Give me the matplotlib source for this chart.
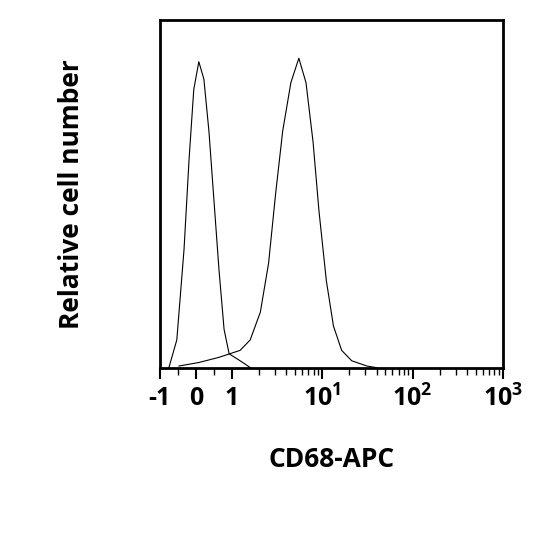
import numpy as np
import matplotlib; matplotlib.use("Agg")
import matplotlib.pyplot as plt

# isotype / unstained peak
neg_x = [-0.75, -0.53, -0.33, -0.19, -0.06, 0.08, 0.22, 0.36, 0.5, 0.64, 0.78, 0.92, 1.23, 1.6]
neg_y = [0, 8, 34, 60, 80, 88, 83, 68, 48, 28, 11, 4, 2, 0]
# CD68-APC stained peak
pos_x = [-0.47, 0.08, 0.64, 1.23, 1.59, 2.06, 2.54, 3.04, 3.64, 4.49, 5.5, 6.6, 7.9, 9.2,
         11.1, 13.3, 16.4, 21.2, 31.2, 40.4]
pos_y = [0.5, 1.5, 3, 5, 8, 16, 30, 50, 68, 82, 89, 82, 65, 45, 25, 12, 5, 2, 0.5, 0]

ticks = [-1, 0, 1, 10, 100, 1000]
tick_labels = ["-1", "0", "1", r"$\mathbf{10^1}$", r"$\mathbf{10^2}$", r"$\mathbf{10^3}$"]

K = 0.4  # linear unit width relative to a decade


def fwd(v):
    v = np.asarray(v, float)
    return np.where(v <= 1, v * K, K + np.log10(np.clip(v, 1, None)))


def inv(u):
    u = np.asarray(u, float)
    return np.where(u <= K, u / K, 10 ** (np.clip(u, K, None) - K))


plt.rcParams['font.family'] = ['Open Sans', 'DejaVu Sans']
plt.rcParams['mathtext.fontset'] = 'custom'
plt.rcParams['mathtext.bf'] = 'Open Sans:bold'
fig = plt.figure(figsize=(5.4, 5.4), dpi=100)
ax = fig.add_axes([0.296, 0.319, 0.635, 0.644])
ax.set_xscale('function', functions=(fwd, inv))
ax.plot(neg_x, neg_y, color='black', lw=0.8)
ax.plot(pos_x, pos_y, color='black', lw=0.8)
ax.set_xlim(-1, 1000)
ax.set_ylim(0, 100)
ax.set_xticks(ticks)
ax.set_xticklabels(tick_labels, fontsize=18, fontweight='bold')
minor = [m * 10 ** d for d in range(0, 3) for m in range(2, 10)] + [-0.5, 0.5]
ax.set_xticks(minor, minor=True)
ax.tick_params(axis='x', which='major', length=8, width=1.5, direction='out', pad=5)
ax.tick_params(axis='x', which='minor', length=5, width=1, direction='out')
ax.set_yticks([])
for s in ax.spines.values():
    s.set_linewidth(2)
ax.set_xlabel("CD68-APC", fontsize=19, fontweight='bold', labelpad=24)
ax.set_ylabel("Relative cell number", fontsize=19, fontweight='bold', labelpad=54)
fig.savefig("out.png", dpi=100)
